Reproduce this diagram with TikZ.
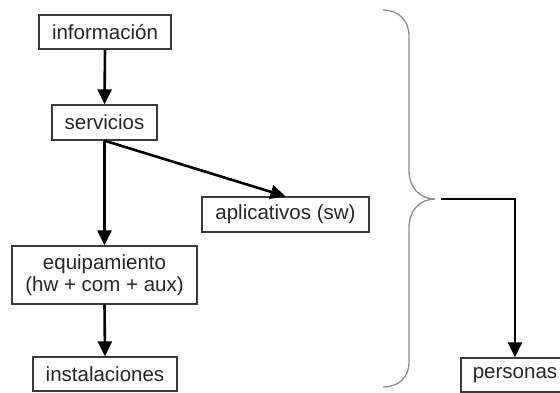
\documentclass[tikz,border=0pt]{standalone}
\usepackage{fontspec}
\setmainfont{Liberation Sans}
\usetikzlibrary{arrows.meta}
\definecolor{boxline}{HTML}{3A3A3A}
\definecolor{bracegray}{HTML}{8C8C8C}
\definecolor{ink}{HTML}{262626}
\begin{document}
\begin{tikzpicture}[x=1pt,y=-1pt,
  box/.style={draw=boxline,line width=1.3pt,fill=white,inner sep=0pt,
    text=ink,font=\fontsize{20.5}{21.5}\selectfont,align=center},
  arr/.style={line width=2.6pt,-{Triangle[length=15pt,width=14pt]}},
  bracestyle/.style={draw=bracegray,line width=1.3pt}]
\useasboundingbox (0,0) rectangle (560,392);
\clip (0,0) rectangle (560,392);

% boxes of the chain
\node[box,minimum width=132pt,minimum height=34pt] (info) at (105,32) {información};
\node[box,minimum width=105pt,minimum height=35pt] (serv) at (104.5,122.5) {servicios};
\node[box,minimum width=167pt,minimum height=35pt] (apl) at (285.5,214.5) {aplicativos (sw)};
\node[box,minimum width=185pt,minimum height=58pt] (equip) at (104.5,275) {equipamiento\\(hw + com + aux)};
\node[box,minimum width=144pt,minimum height=34pt] (inst) at (105,374) {instalaciones};
\node[box,minimum width=108pt,minimum height=34pt] (pers) at (515,375) {personas};

% connectors
\draw[arr] (info.south) -- (serv.north);
\draw[arr] (serv.south) -- (equip.north);
\draw[arr] (serv.south) -- (apl.north);
\draw[arr] (equip.south) -- (inst.north);

% curly brace grouping the chain
\draw[bracestyle] (383,10) .. controls (398,10) and (409,20) .. (409,36)
  -- (409,170) .. controls (409,188) and (420,199) .. (435,199)
  .. controls (420,199) and (409,210) .. (409,228)
  -- (409,362) .. controls (409,378) and (398,387) .. (383,387);
\coordinate (bt) at (441,199);
\draw[arr] (bt) -| (pers.north);
\end{tikzpicture}
\end{document}
